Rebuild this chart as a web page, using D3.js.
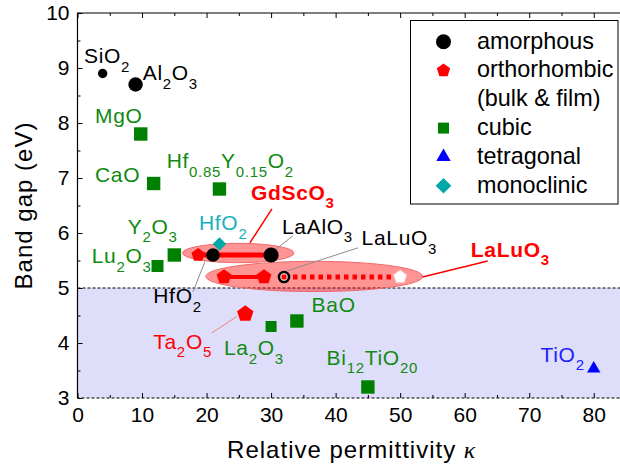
<!DOCTYPE html>
<html lang="en">
<head>
<meta charset="UTF-8">
<title>Band gap vs relative permittivity</title>
<script src="https://cdn.jsdelivr.net/npm/d3@7.8.5/dist/d3.min.js"></script>
<style>
  body { margin: 0; background: #fff; }
  svg { font-family: "Liberation Sans", Arial, sans-serif; }
</style>
</head>
<body>
<svg id="chart" width="620" height="471"></svg>
<script>
// --- data (kappa, band gap in eV) ---
const amorphousNames = ["SiO2", "Al2O3", "HfO2", "LaAlO3", "LaLuO3"];
const amorphousK = [3.9, 9.0, 21.0, 30.0, 32.0];
const amorphousEg = [8.9, 8.7, 5.6, 5.6, 5.2];

const orthoNames = ["GdScO3", "LaLuO3 bulk", "LaLuO3 bulk 2", "LaLuO3 film", "Ta2O5"];
const orthoK = [18.7, 22.7, 28.9, 50.0, 26.0];
const orthoEg = [5.6, 5.2, 5.2, 5.2, 4.53];

const cubicNames = ["MgO", "CaO", "Hf0.85Y0.15O2", "Y2O3", "Lu2O3", "La2O3", "BaO", "Bi12TiO20"];
const cubicK = [9.8, 11.8, 22.0, 15.0, 12.4, 30.0, 34.0, 45.0];
const cubicEg = [7.8, 6.9, 6.8, 5.6, 5.4, 4.3, 4.4, 3.2];

const tetraNames = ["TiO2"];
const tetraK = [80.0];
const tetraEg = [3.55];

const monoNames = ["HfO2"];
const monoK = [22.0];
const monoEg = [5.8];

// ranges shown as ellipses
const ellipseNames = ["GdScO3", "LaLuO3"];
const ellipseK = [24.9, 36.7];
const ellipseEg = [5.636, 5.21];
const ellipseDK = [8.64, 16.8];
const ellipseDEg = [0.176, 0.275];

const xTicks = [0, 10, 20, 30, 40, 50, 60, 70, 80];
const yTicks = [3, 4, 5, 6, 7, 8, 9, 10];
const lowGapLimit = 5;

// --- setup ---
const svg = d3.select("#chart");
const x = d3.scaleLinear().domain([0, 85]).range([77.5, 626]);
const y = d3.scaleLinear().domain([3, 10]).range([398, 13]);

const RED = "#ff0000", GREEN = "#008000", TEXTGREEN = "#118a11";

// custom symbols
const symbolPentagon = {
  draw(ctx, size) {
    const r = Math.sqrt(size / 2.3776);
    for (let i = 0; i < 5; i++) {
      const a = -Math.PI / 2 + i * 2 * Math.PI / 5;
      i ? ctx.lineTo(r * Math.cos(a), r * Math.sin(a)) : ctx.moveTo(r * Math.cos(a), r * Math.sin(a));
    }
    ctx.closePath();
  }
};
const symbolRhombus = {
  draw(ctx, size) {
    const h = Math.sqrt(size / 2);
    ctx.moveTo(0, -h); ctx.lineTo(h, 0); ctx.lineTo(0, h); ctx.lineTo(-h, 0); ctx.closePath();
  }
};
const circleArea = r => Math.PI * r * r;
const pentArea = r => 2.3776 * r * r;

// rich text with {sub} parts
function rich(sel, str, size) {
  const sub = Math.round(size * 0.72), shift = size * 0.4;
  let down = false;
  str.split(/(\{[^}]*\})/).filter(s => s).forEach(p => {
    const isSub = p[0] === "{";
    const t = sel.append("tspan").text(isSub ? p.slice(1, -1) : p);
    if (isSub) {
      t.attr("font-size", sub);
      if (!down) { t.attr("dy", shift); down = true; }
    } else if (down) { t.attr("dy", -shift); down = false; }
  });
}

// --- low gap region ---
svg.append("rect")
  .attr("x", x(0)).attr("y", y(lowGapLimit))
  .attr("width", x(85) - x(0)).attr("height", y(3) - y(lowGapLimit))
  .attr("fill", "#dedefa")
  .attr("stroke", "#000").attr("stroke-width", 1).attr("stroke-dasharray", "3,2");

// --- axes ---
const half = d3.range(3, 10.01, 0.5).filter(v => v % 1 !== 0);
const fives = d3.range(5, 85, 10);
const tickText = g => g.selectAll("text").attr("font-size", 21).attr("font-family", "Liberation Sans, Arial").attr("fill", "#000");

svg.append("g").attr("transform", `translate(${x(0)},0)`)
  .call(d3.axisLeft(y).tickValues(yTicks).tickFormat(d3.format("d")).tickSize(-5).tickPadding(8))
  .call(g => g.select(".domain").remove())
  .call(tickText);
svg.append("g").attr("transform", `translate(${x(0)},0)`)
  .call(d3.axisLeft(y).tickValues(half).tickSize(-3).tickFormat(""))
  .call(g => g.select(".domain").remove());

svg.append("g").attr("transform", `translate(0,${y(3)})`)
  .call(d3.axisBottom(x).tickValues(xTicks).tickFormat(d3.format("d")).tickSize(-5).tickPadding(9))
  .call(g => g.select(".domain").remove())
  .call(tickText);
svg.append("g").attr("transform", `translate(0,${y(3)})`)
  .call(d3.axisBottom(x).tickValues(fives).tickSize(-3).tickFormat(""))
  .call(g => g.select(".domain").remove());

svg.append("g").attr("transform", `translate(0,${y(10)})`)
  .call(d3.axisTop(x).tickValues(xTicks).tickSize(-5).tickFormat(""))
  .call(g => g.select(".domain").remove());
svg.append("g").attr("transform", `translate(0,${y(10)})`)
  .call(d3.axisTop(x).tickValues(fives).tickSize(-3).tickFormat(""))
  .call(g => g.select(".domain").remove());

// frame: left and top solid
svg.append("path")
  .attr("d", `M${x(0)},${y(3)}V${y(10)}H${x(85)}`)
  .attr("fill", "none").attr("stroke", "#000").attr("stroke-width", 1.2);

// axis titles
svg.append("text")
  .attr("x", (x(0) + x(85)) / 2).attr("y", 458)
  .attr("text-anchor", "middle").attr("font-size", 24).attr("letter-spacing", 1)
  .text("Relative permittivity ")
  .append("tspan").attr("font-family", "Liberation Serif, serif").attr("font-style", "italic").text("κ");

svg.append("text")
  .attr("transform", `translate(32,${(y(3) + y(10)) / 2}) rotate(-90)`)
  .attr("text-anchor", "middle").attr("font-size", 24).attr("letter-spacing", 1)
  .text("Band gap (eV)");

// --- ellipses ---
svg.append("g").selectAll("ellipse")
  .data(ellipseNames.map((n, i) => ({ n, k: ellipseK[i], eg: ellipseEg[i], dk: ellipseDK[i], de: ellipseDEg[i] })))
  .join("ellipse")
  .attr("cx", d => x(d.k)).attr("cy", d => y(d.eg))
  .attr("rx", d => x(d.k + d.dk) - x(d.k)).attr("ry", d => y(d.eg - d.de) - y(d.eg))
  .attr("fill", "#ff0000").attr("fill-opacity", 0.42)
  .attr("stroke", "#f06a6a").attr("stroke-width", 1);

// --- connecting lines ---
const lineG = svg.append("g").attr("stroke", RED).attr("fill", "none");
lineG.append("line") // GdScO3 bulk to LaAlO3 amorphous
  .attr("x1", x(orthoK[0])).attr("x2", x(amorphousK[3]))
  .attr("y1", y(orthoEg[0])).attr("y2", y(amorphousEg[3]))
  .attr("stroke-width", 5);
lineG.append("line") // LaLuO3 bulk
  .attr("x1", x(orthoK[1])).attr("x2", x(orthoK[2]))
  .attr("y1", y(orthoEg[1])).attr("y2", y(orthoEg[2]))
  .attr("stroke-width", 4);
lineG.append("line") // LaLuO3 amorphous to film
  .attr("x1", x(amorphousK[4]) + 9).attr("x2", x(orthoK[3]) - 6)
  .attr("y1", y(amorphousEg[4])).attr("y2", y(orthoEg[3]))
  .attr("stroke-width", 5).attr("stroke-dasharray", "4.5,4");

// --- leader lines: [k1, eg1, k2, eg2, color, width] ---
const leaders = [
  [30.13, 6.44, 26.72, 5.82, RED, 1.5],
  [63.58, 5.49, 53.47, 5.20, RED, 1.5],
  [33.38, 5.95, 30.59, 5.69, "#8c8c8c", 1],
  [43.45, 5.73, 32.45, 5.31, "#8c8c8c", 1],
  [19.75, 5.48, 17.89, 4.93, "#8c8c8c", 1],
  [24.66, 4.48, 20.79, 4.18, "#f08080", 1]
];
svg.append("g").selectAll("line").data(leaders).join("line")
  .attr("x1", d => x(d[0])).attr("y1", d => y(d[1]))
  .attr("x2", d => x(d[2])).attr("y2", d => y(d[3]))
  .attr("stroke", d => d[4]).attr("stroke-width", d => d[5]);

// --- markers ---
const mk = svg.append("g");
const amSize = { SiO2: 4.7, Al2O3: 7.2, HfO2: 6.8, LaAlO3: 7.6 };
amorphousNames.forEach((n, i) => {
  if (n === "LaLuO3") {
    mk.append("circle").attr("cx", x(amorphousK[i])).attr("cy", y(amorphousEg[i]))
      .attr("r", 5).attr("fill", "#fff").attr("stroke", "#000").attr("stroke-width", 2.6);
    mk.append("path").attr("transform", `translate(${x(amorphousK[i])},${y(amorphousEg[i])})`)
      .attr("d", d3.symbol(d3.symbolSquare, 25)()).attr("fill", RED);
  } else {
    mk.append("path").attr("transform", `translate(${x(amorphousK[i])},${y(amorphousEg[i])})`)
      .attr("d", d3.symbol(d3.symbolCircle, circleArea(amSize[n]))()).attr("fill", "#000");
  }
});
const orSize = { "GdScO3": 7, "LaLuO3 bulk": 7.8, "LaLuO3 bulk 2": 7.8, "LaLuO3 film": 7.2, "Ta2O5": 8.6 };
orthoNames.forEach((n, i) => {
  const film = n === "LaLuO3 film";
  mk.append("path").attr("transform", `translate(${x(orthoK[i])},${y(orthoEg[i])})`)
    .attr("d", d3.symbol(symbolPentagon, pentArea(orSize[n]))())
    .attr("fill", film ? "#fff" : RED)
    .attr("stroke", film ? "#ffb0b0" : "none");
});
const cuSize = { La2O3: 11, Lu2O3: 12 };
cubicNames.forEach((n, i) => {
  const s = cuSize[n] || 13.4;
  mk.append("path").attr("transform", `translate(${x(cubicK[i])},${y(cubicEg[i])})`)
    .attr("d", d3.symbol(d3.symbolSquare, s * s)()).attr("fill", GREEN);
});
tetraNames.forEach((n, i) => {
  mk.append("path").attr("transform", `translate(${x(tetraK[i])},${y(tetraEg[i]) + 1})`)
    .attr("d", d3.symbol(d3.symbolTriangle, 78)()).attr("fill", "#0000ff");
});
monoNames.forEach((n, i) => {
  mk.append("path").attr("transform", `translate(${x(monoK[i])},${y(monoEg[i])})`)
    .attr("d", d3.symbol(symbolRhombus, 2 * 6.8 * 6.8)()).attr("fill", "#00a8a8");
});

// --- annotations: [text, k, eg, color, bold] ---
const labels = [
  ["SiO{2}", 1.0, 9.085, "#000", false],
  ["Al{2}O{3}", 10.1, 8.78, "#000", false],
  ["MgO", 2.71, 7.995, TEXTGREEN, false],
  ["CaO", 2.71, 6.93, TEXTGREEN, false],
  ["Hf{0.85}Y{0.15}O{2}", 13.82, 7.18, TEXTGREEN, false],
  ["GdScO{3}", 26.87, 6.6, RED, true],
  ["HfO{2}", 18.82, 6.05, "#17b0be", false],
  ["Y{2}O{3}", 7.78, 5.99, TEXTGREEN, false],
  ["Lu{2}O{3}", 2.2, 5.45, TEXTGREEN, false],
  ["LaAlO{3}", 31.68, 5.99, "#000", false],
  ["LaLuO{3}", 44.02, 5.78, "#000", false],
  ["LaLuO{3}", 60.95, 5.57, RED, true],
  ["HfO{2}", 11.74, 4.72, "#000", false],
  ["Ta{2}O{5}", 11.74, 3.90, RED, false],
  ["La{2}O{3}", 22.69, 3.78, TEXTGREEN, false],
  ["BaO", 36.28, 4.57, TEXTGREEN, false],
  ["Bi{12}TiO{20}", 38.6, 3.6, TEXTGREEN, false],
  ["TiO{2}", 71.75, 3.66, "#2020ff", false]
];
const lab = svg.append("g").attr("font-size", 21).attr("letter-spacing", 0.7);
labels.forEach(d => {
  const t = lab.append("text").attr("x", x(d[1])).attr("y", y(d[2]))
    .attr("fill", d[3]).attr("font-weight", d[4] ? "bold" : null);
  rich(t, d[0], 21);
});

// --- legend ---
const legendItems = [
  ["amorphous", d3.symbol(d3.symbolCircle, circleArea(7.5))(), "#000"],
  ["orthorhombic", d3.symbol(symbolPentagon, pentArea(7))(), RED],
  ["(bulk & film)", null, null],
  ["cubic", d3.symbol(d3.symbolSquare, 11 * 11)(), GREEN],
  ["tetragonal", d3.symbol(d3.symbolTriangle, 90)(), "#0000ff"],
  ["monoclinic", d3.symbol(symbolRhombus, 2 * 7.8 * 7.8)(), "#00a8a8"]
];
const lg = svg.append("g");
lg.append("rect").attr("x", 410.5).attr("y", 20.5).attr("width", 207.5).attr("height", 183.5)
  .attr("fill", "#fff").attr("stroke", "#000").attr("stroke-width", 1);
legendItems.forEach((d, i) => {
  const by = 48.5 + i * 28.8;
  if (d[1]) lg.append("path").attr("transform", `translate(443.5,${by - 6.8})`).attr("d", d[1]).attr("fill", d[2]);
  lg.append("text").attr("x", 477).attr("y", by).attr("font-size", 23.4).text(d[0]);
});
</script>
</body>
</html>
